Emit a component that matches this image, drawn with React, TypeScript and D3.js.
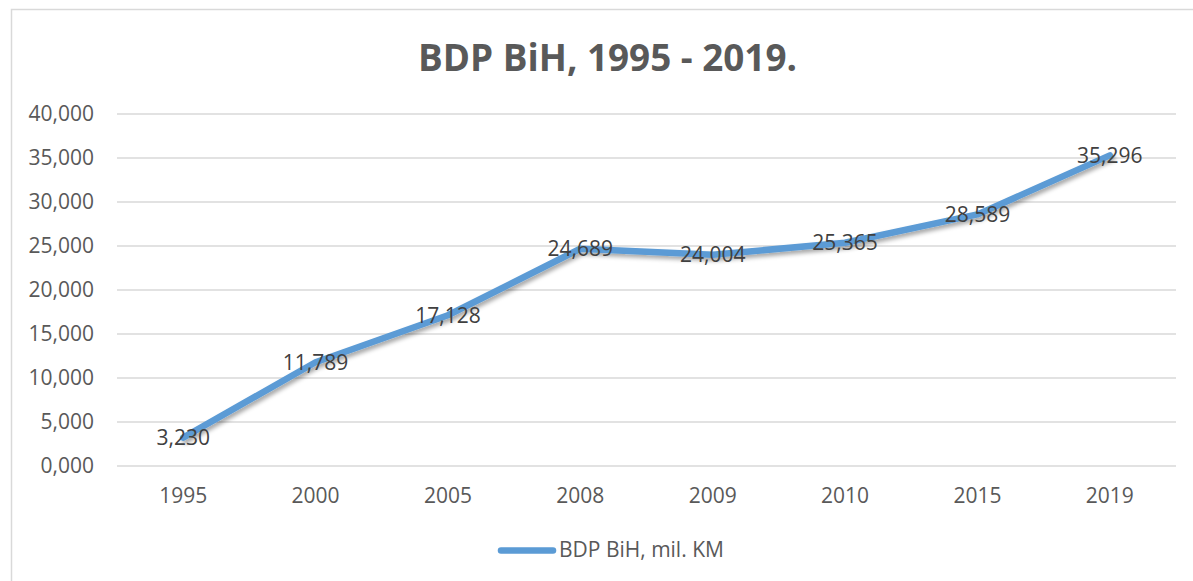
import React from "react";
import * as d3 from "d3";

const years = ["1995", "2000", "2005", "2008", "2009", "2010", "2015", "2019"];
const gdp = [3.23, 11.789, 17.128, 24.689, 24.004, 25.365, 28.589, 35.296];
const yTicks = [0, 5, 10, 15, 20, 25, 30, 35, 40];
const seriesName = "BDP BiH, mil. KM";
const title = "BDP BiH, 1995 - 2019.";

const locale = d3.formatLocale({
  decimal: ",",
  thousands: ".",
  grouping: [3],
  currency: ["", " KM"],
});
const fmt = locale.format(".3f");

const App = () => {
  const svgRef = React.useRef<SVGSVGElement>(null);
  const width = 1193;
  const height = 581;

  React.useEffect(() => {
    const svg = d3.select(svgRef.current);
    svg.selectAll("*").remove();

    const font = "'Open Sans', sans-serif";
    const left = 117;
    const right = 1176;
    const top = 114;
    const bottom = 466;

    const x = d3.scalePoint<string>().domain(years).range([left, right]).padding(0.5);
    const y = d3.scaleLinear().domain([0, 40]).range([bottom, top]);

    const defs = svg.append("defs");
    const filter = defs
      .append("filter")
      .attr("id", "shadow")
      .attr("x", "-10%")
      .attr("y", "-10%")
      .attr("width", "120%")
      .attr("height", "130%");
    filter
      .append("feDropShadow")
      .attr("dx", 2)
      .attr("dy", 3)
      .attr("stdDeviation", 2)
      .attr("flood-color", "#000")
      .attr("flood-opacity", 0.35);

    svg.append("rect").attr("width", width).attr("height", height).attr("fill", "#fff");

    // chart frame
    svg
      .append("rect")
      .attr("x", 11.5)
      .attr("y", 9.5)
      .attr("width", 1200)
      .attr("height", 600)
      .attr("fill", "none")
      .attr("stroke", "#d9d9d9")
      .attr("stroke-width", 1.5);

    svg
      .append("text")
      .attr("x", 607.5)
      .attr("y", 71)
      .attr("text-anchor", "middle")
      .attr("font-family", font)
      .attr("font-weight", 700)
      .attr("font-size", 38)
      .attr("fill", "#595959")
      .attr("textLength", 379)
      .attr("lengthAdjust", "spacingAndGlyphs")
      .text(title);

    // gridlines
    svg
      .append("g")
      .selectAll("line")
      .data(yTicks)
      .join("line")
      .attr("x1", left)
      .attr("x2", right)
      .attr("y1", d => y(d))
      .attr("y2", d => y(d))
      .attr("stroke", "#d9d9d9")
      .attr("stroke-width", 1.5);

    // y labels
    svg
      .append("g")
      .selectAll("text")
      .data(yTicks)
      .join("text")
      .attr("x", 94)
      .attr("y", d => y(d))
      .attr("dy", "0.35em")
      .attr("text-anchor", "end")
      .attr("font-family", font)
      .attr("font-size", 21)
      .attr("fill", "#595959")
      .text(d => fmt(d));

    // x labels
    svg
      .append("g")
      .selectAll("text")
      .data(years)
      .join("text")
      .attr("x", d => x(d)!)
      .attr("y", 503)
      .attr("text-anchor", "middle")
      .attr("font-family", font)
      .attr("font-size", 21)
      .attr("fill", "#595959")
      .text(d => d);

    const line = d3
      .line<number>()
      .x((_, i) => x(years[i])!)
      .y(d => y(d));

    svg
      .append("path")
      .datum(gdp)
      .attr("d", line)
      .attr("fill", "none")
      .attr("stroke", "#5b9bd5")
      .attr("stroke-width", 6.5)
      .attr("stroke-linecap", "round")
      .attr("stroke-linejoin", "round")
      .attr("filter", "url(#shadow)");

    // data labels
    svg
      .append("g")
      .selectAll("text")
      .data(gdp)
      .join("text")
      .attr("x", (_, i) => x(years[i])!)
      .attr("y", d => y(d))
      .attr("dy", "0.35em")
      .attr("text-anchor", "middle")
      .attr("font-family", font)
      .attr("font-size", 21)
      .attr("fill", "#404040")
      .text(d => fmt(d));

    // legend
    const legend = svg.append("g");
    legend
      .append("line")
      .attr("x1", 501)
      .attr("x2", 553)
      .attr("y1", 550.5)
      .attr("y2", 550.5)
      .attr("stroke", "#5b9bd5")
      .attr("stroke-width", 6.5)
      .attr("stroke-linecap", "round");
    legend
      .append("text")
      .attr("x", 559)
      .attr("y", 557)
      .attr("font-family", font)
      .attr("font-size", 21)
      .attr("fill", "#595959")
      .text(seriesName);
  }, []);

  return (
    <div style={{ position: "absolute", left: 0, top: 0 }}>
      <svg ref={svgRef} width={width} height={height} style={{ display: "block" }} />
    </div>
  );
};

export default App;
